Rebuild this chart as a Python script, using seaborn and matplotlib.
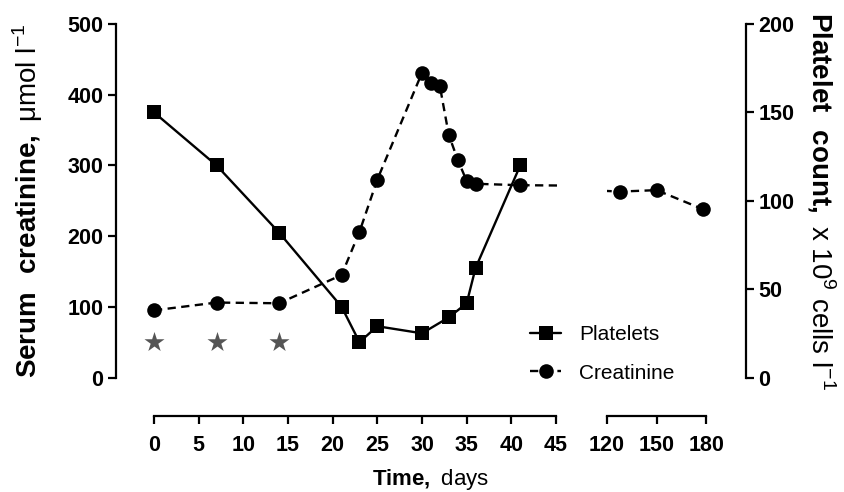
import numpy as np
import pandas as pd
import matplotlib
matplotlib.use("Agg")
import matplotlib.pyplot as plt
import seaborn as sns

# data
creat_days = [0, 7, 14, 21, 23, 25, 30, 31, 32, 33, 34, 35, 36, 41, 128, 150, 178]
creat_vals = [95, 106, 105, 145, 206, 280, 431, 417, 412, 343, 308, 278, 274, 272, 263, 265, 238]
plt_days = [0, 7, 14, 21, 23, 25, 30, 33, 35, 36, 41]
plt_vals = [150, 120, 82, 40, 20, 29, 25, 34, 42, 62, 120]
star_days = [0, 7, 14]
star_vals = [50, 50, 50]
ticks_a = [0, 5, 10, 15, 20, 25, 30, 35, 40, 45]
ticks_b = [120, 150, 180]

sns.set_style("ticks", {"axes.edgecolor": "black", "xtick.color": "black",
                        "ytick.color": "black", "text.color": "black",
                        "axes.labelcolor": "black"})
plt.rcParams['font.family'] = ['Liberation Sans', 'DejaVu Sans']
plt.rcParams['mathtext.fontset'] = 'custom'
plt.rcParams['mathtext.rm'] = 'Liberation Sans'
plt.rcParams['mathtext.bf'] = 'Liberation Sans:bold'
plt.rcParams['axes.linewidth'] = 1.6

creat = pd.DataFrame({'day': creat_days, 'val': creat_vals})
plat = pd.DataFrame({'day': plt_days, 'val': plt_vals})

W, H = 845, 492
fig = plt.figure(figsize=(W / 100, H / 100), dpi=100)

def box(x0, x1, y0=24, y1=377.5):
    return [x0 / W, 1 - y1 / H, (x1 - x0) / W, (y1 - y0) / H]

ax1 = fig.add_axes(box(116, 561))
ax2 = fig.add_axes(box(607, 746))
ax1r = ax1.twinx()
ax2r = ax2.twinx()

line_kw = dict(color='black', linewidth=1.7, markersize=10.5, markeredgewidth=0)
for a, ar in [(ax1, ax1r), (ax2, ax2r)]:
    sns.lineplot(data=creat, x='day', y='val', ax=a, marker='o', linestyle=(0, (3.5, 2.3)),
                 estimator=None, label='Creatinine', **line_kw)
    sns.lineplot(data=plat, x='day', y='val', ax=ar, marker='s', linestyle='-',
                 estimator=None, label='Platelets', **line_kw)
    a.set_ylim(0, 500)
    ar.set_ylim(0, 200)

sns.scatterplot(x=star_days, y=star_vals, ax=ax1, marker='*', s=230, color='#555555',
                linewidth=0, zorder=3)

for a in [ax1, ax2, ax1r, ax2r]:
    if a.get_legend() is not None:
        a.get_legend().remove()

ax1.set_xlim(-4.254, 45.56)
ax2.set_xlim(120.6, 204)

tick_font = dict(fontsize=15.5, fontweight='bold')
for a in [ax1, ax2]:
    a.spines['top'].set_visible(False)
    a.spines['right'].set_visible(False)
    a.spines['bottom'].set_position(('outward', 27.7))
    a.tick_params(axis='x', length=6, width=1.6, pad=8)
    a.set_xlabel('')
    a.set_ylabel('')
for ar in [ax1r, ax2r]:
    ar.spines['top'].set_visible(False)
    ar.spines['left'].set_visible(False)
    ar.spines['bottom'].set_visible(False)
    ar.set_ylabel('')

ax1.spines['bottom'].set_bounds(0, 45)
ax1.set_xticks(ticks_a)
ax1.set_xticklabels([str(t) for t in ticks_a], **tick_font)
ax1.set_yticks([0, 100, 200, 300, 400, 500])
ax1.set_yticklabels(['0', '100', '200', '300', '400', '500'], **tick_font)
ax1.tick_params(axis='y', length=6, width=1.6, pad=3)

ax1r.spines['right'].set_visible(False)
ax1r.set_yticks([])

ax2.spines['left'].set_visible(False)
ax2.spines['bottom'].set_bounds(120, 180)
ax2.set_xticks(ticks_b)
ax2.set_xticklabels([str(t) for t in ticks_b], **tick_font)
ax2.set_yticks([])

ax2r.set_yticks([0, 50, 100, 150, 200])
ax2r.set_yticklabels(['0', '50', '100', '150', '200'], **tick_font)
ax2r.tick_params(axis='y', length=6, width=1.6, pad=3)

ax1.set_ylabel(r'$\mathbf{Serum\ \ creatinine,}$ $\mathrm{\mu}$mol l$^{-1}$', fontsize=20, labelpad=16)
ax2r.set_ylabel(r'$\mathbf{Platelet\ \ count,}$ x 10$^{9}$ cells l$^{-1}$', fontsize=20,
                rotation=270, labelpad=31)
fig.text(430 / W, 1 - 480 / H, r'$\mathbf{Time,}$ days', fontsize=16, ha='center', va='center')

h_c = ax1.get_lines()[0]
h_p = ax1r.get_lines()[0]
fig.legend([h_p, h_c], ['Platelets', 'Creatinine'], loc='upper left',
           bbox_to_anchor=(530 / W, 1 - 325 / H), frameon=False, fontsize=15,
           handlelength=1.5, labelspacing=0.95, handletextpad=0.85,
           borderpad=0, borderaxespad=0)

fig.savefig('out.png', dpi=100)
